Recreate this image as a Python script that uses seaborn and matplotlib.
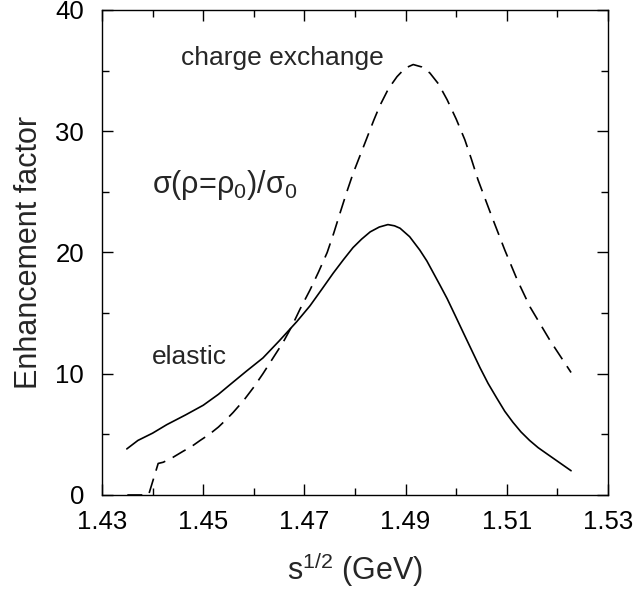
import matplotlib
matplotlib.use("Agg")
import matplotlib.pyplot as plt
import seaborn as sns
import pandas as pd
from matplotlib.ticker import FixedLocator

# ---- data ----
elastic_x = [1.4349, 1.4371, 1.4400, 1.4428, 1.4465, 1.4500, 1.4530, 1.4553,
             1.4585, 1.4618, 1.4650, 1.4685, 1.4711, 1.4735, 1.4757, 1.4777,
             1.4796, 1.4813, 1.4830, 1.4848, 1.4865, 1.4878, 1.4889, 1.4908,
             1.4928, 1.4942, 1.4955, 1.4968, 1.4982, 1.4998, 1.5015, 1.5031,
             1.5047, 1.5063, 1.5080, 1.5096, 1.5112, 1.5128, 1.5145, 1.5162,
             1.5179, 1.5203, 1.5227]
elastic_y = [3.8, 4.5, 5.1, 5.8, 6.6, 7.4, 8.3, 9.1,
             10.2, 11.3, 12.7, 14.3, 15.6, 17.0, 18.3, 19.4,
             20.4, 21.1, 21.7, 22.1, 22.3, 22.2, 22.0, 21.3,
             20.2, 19.3, 18.3, 17.3, 16.2, 14.8, 13.3, 11.9,
             10.5, 9.2, 8.0, 6.9, 6.0, 5.2, 4.5, 3.9,
             3.4, 2.7, 2.0]

cex_x = [1.4350, 1.4392, 1.4411, 1.4421, 1.4440, 1.4460, 1.4477, 1.4494,
         1.4512, 1.4530, 1.4545, 1.4559, 1.4580, 1.4600, 1.4618, 1.4638,
         1.4658, 1.4675, 1.4691, 1.4711, 1.4728, 1.4745, 1.4758, 1.4770,
         1.4783, 1.4796, 1.4810, 1.4824, 1.4837, 1.4849, 1.4866, 1.4883,
         1.4899, 1.4915, 1.4932, 1.4948, 1.4965, 1.4982, 1.5000, 1.5017,
         1.5030, 1.5043, 1.5070, 1.5096, 1.5121, 1.5146, 1.5186, 1.5227]
cex_y = [0.0, 0.0, 2.6, 2.7, 3.1, 3.6, 4.0, 4.5,
         5.0, 5.6, 6.2, 6.8, 7.8, 8.9, 10.0, 11.3,
         12.6, 13.9, 15.3, 16.9, 18.4, 20.0, 21.6, 23.2,
         24.9, 26.5, 28.0, 29.5, 30.9, 32.1, 33.5, 34.5,
         35.2, 35.5, 35.3, 34.8, 33.9, 32.6, 31.0, 29.3,
         27.7, 26.0, 23.0, 20.2, 17.7, 15.5, 12.7, 10.1]

xticks_major = [1.43, 1.45, 1.47, 1.49, 1.51, 1.53]
xticks_minor = [1.44, 1.46, 1.48, 1.50, 1.52]
yticks_major = [0, 10, 20, 30, 40]
yticks_minor = [5, 15, 25, 35]

sns.set_style("ticks")
plt.rcParams["font.family"] = ["Liberation Sans", "DejaVu Sans"]
plt.rcParams["mathtext.fontset"] = "custom"
plt.rcParams["mathtext.rm"] = "Liberation Sans"
plt.rcParams["mathtext.it"] = "Liberation Sans"
plt.rcParams["mathtext.bf"] = "Liberation Sans:bold"

fig = plt.figure(figsize=(6.36, 5.94), dpi=100)
ax = fig.add_axes([0.1604, 0.1667, 0.7956, 0.8165])

df_el = pd.DataFrame({"x": elastic_x, "y": elastic_y})
df_cx = pd.DataFrame({"x": cex_x, "y": cex_y})

sns.lineplot(data=df_el, x="x", y="y", ax=ax, color="black", linewidth=1.2,
             estimator=None, sort=False)
sns.lineplot(data=df_cx, x="x", y="y", ax=ax, color="black", linewidth=1.2,
             estimator=None, sort=False)
ax.lines[-1].set_dashes([9, 5])

ax.set_xlim(1.43, 1.53)
ax.set_ylim(0, 40)
ax.xaxis.set_major_locator(FixedLocator(xticks_major))
ax.xaxis.set_minor_locator(FixedLocator(xticks_minor))
ax.yaxis.set_major_locator(FixedLocator(yticks_major))
ax.yaxis.set_minor_locator(FixedLocator(yticks_minor))
ax.set_xticklabels([f"{v:.2f}" for v in xticks_major])
ax.set_yticklabels([str(v) for v in yticks_major])

ax.tick_params(which="both", direction="in", top=True, right=True,
               width=1, colors="black", labelsize=18.5)
ax.tick_params(which="major", length=8)
ax.tick_params(which="minor", length=5)
ax.tick_params(axis="x", which="both", pad=11)
ax.tick_params(axis="y", which="both", pad=13)
for s in ax.spines.values():
    s.set_linewidth(1.0)
    s.set_color("black")

ax.set_xlabel(r"s$^{1/2}$ (GeV)", fontsize=22, labelpad=11)
ax.set_ylabel("Enhancement factor", fontsize=22, labelpad=8)

ax.text(1.4656, 36.0, "charge exchange", fontsize=19, ha="center", va="center")
ax.text(1.4399, 25.6, r"σ(ρ=ρ$_0$)/σ$_0$", fontsize=22, ha="left", va="center")
ax.text(1.4399, 11.4, "elastic", fontsize=19, ha="left", va="center")

fig.savefig("out.png", dpi=100)
